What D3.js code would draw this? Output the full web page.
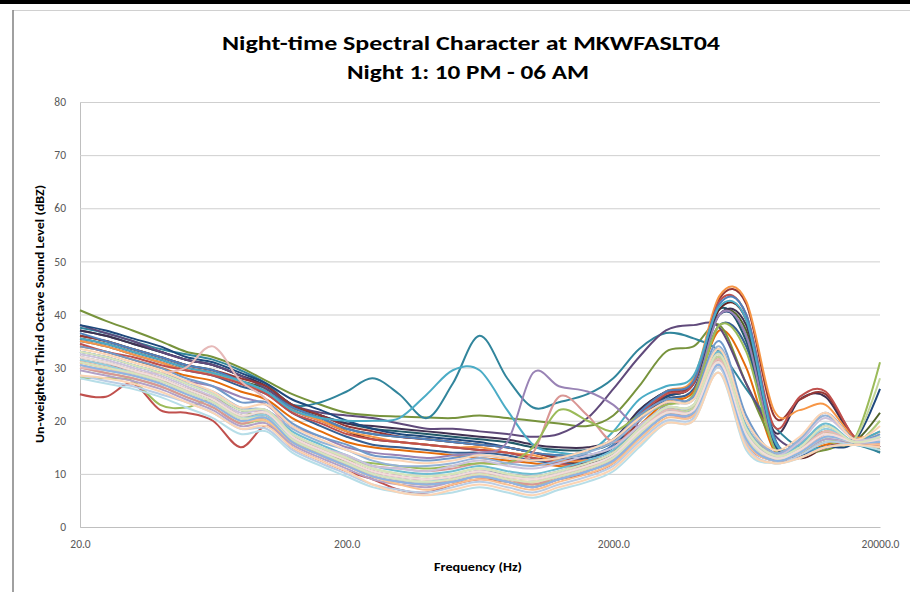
<!DOCTYPE html>
<html><head><meta charset="utf-8">
<script src="https://cdn.jsdelivr.net/npm/d3@7"></script>
<style>
html,body{margin:0;padding:0;background:#fff;}
svg{display:block;}
</style></head>
<body>
<svg id="c" width="910" height="592"></svg>
<script>
const titleLines = ["Night-time Spectral Character at MKWFASLT04", "Night 1: 10 PM - 06 AM"];
const xTitle = "Frequency (Hz)";
const yTitle = "Un-weighted Third Octave Sound Level (dBZ)";
const bands = [20,25,31.5,40,50,63,80,100,125,160,200,250,315,400,500,630,800,1000,1250,1600,2000,2500,3150,4000,5000,6300,8000,10000,12500,16000,20000];
const yTicks = [0,10,20,30,40,50,60,70,80];
const xTicks = [20,200,2000,20000];

// upper (dark) series
const s01 = [40.8,38.8,37,35,33,32,30,27.5,25,23,21.5,21,20.8,20.6,20.5,21,20.5,20,19.5,19,21,26.5,33,34,38,27,16,14,14.5,16,14.5];
const s02 = [37.5,36.5,35,33.5,32.5,31.5,29.5,27,23,23.5,25.5,28,25,20.5,27,36,28,22.5,23.5,25,28,33.5,36.5,35.5,33,26,19,15,15,15.5,14];
const s03 = [38,36.5,35,33,31.5,30.5,28.5,26,23,21.5,21,20.5,19.5,18.5,18.5,18,17.5,17,17.5,20.5,26,32,37,38,37.5,27,17.5,14.5,15,16,15];
const s04 = [38,37,35.5,34,32,31,29,27,24,22,20,18.5,17.5,17,16.5,16,15,14,13,13,15,21,24.5,27,40,36,16,13.5,15,16,26];
const s05 = [36,35,33.5,32,30.5,29.5,28,26.5,23,21,19,18,17,16.5,16,15.5,15,14,13,12.5,14,20,25,27.5,43,42,21,24,25,17,15];
const s06 = [35,34,32.5,31,29.5,29,27,25.5,22,20,18,17,16,15.5,15,15,14,13.5,12.5,12.5,14,21,25.5,28,43.5,42.5,22,22,23,17,18];
const s07 = [34.5,33,32,30.5,29.5,28.5,27,25,21.5,19.5,17.5,16.5,16,15.5,15,14.5,14,13,12,11.5,14,21,25,27,42.5,40,19,24.5,25.5,17,15.5];
const s08 = [36.5,35,33.5,32,30.5,29.5,27.5,25.5,22.5,20.5,18.5,17.5,17,16.5,16,15.5,15,14,13.5,13.5,15.5,21.5,25.5,27.5,42,40,17,14,15,16.5,16];
const s09 = [35.5,34.5,33,31.5,30,29,27.5,25.5,22,20.5,20,20,20.5,25,29.5,29.5,22,15.5,14,14,18,24,26.5,28.5,41.5,39,16.5,14.5,15,16,18];
const s10 = [33,32,30.5,29,27.5,26.5,24.5,23,19,17,15,14,13.5,13,13.5,14,16,29,26.5,25.5,23,19,23,25,40,36,15,14,16,16,17];
const s11 = [31,30,29,27.5,26,24.5,22,21.5,17,15,13,11.5,11,10.5,11,12,12,14,24.5,21,16,19,22,22.5,33,19,14,16,18,16,17];
const s12 = [28,28,27.5,23,22.5,24,22,20,16,14,12.5,12,11.5,11,11.5,12,12,15,22,20,18,21,23,25,38,33,15,14,16,16.5,31];
const s13 = [25,24.5,27,22,21.5,20,15,19,15,12.5,10.5,9,7,6.5,8,9,8.5,7.5,9,10,12,17,21,21.5,31,16,12.5,13,15,16,15];
// between-group series
const s14 = [35,34,32.5,31,29.5,28.5,26.5,25,21.5,19,17,15.5,15,14.5,14,14,13.5,12.5,12,12,14,20,24,26,38,34,15.5,13.5,15,16,15];
const s15 = [34,33,31.5,30,28.5,27.5,25.5,24,20.5,18,16,15,14.5,14,13.5,13,12.5,12,11.5,11.5,13.5,19,23.5,25.5,37,30,14.5,13.5,15.5,16,15.5];
const s16 = [37,36,34.5,33,31.5,30.5,28.5,26.5,23,21,19.5,18.5,18,17.5,17,16.5,16,15,14.5,14.5,16,22,25.5,27.5,41,35,16,13.5,15,16,14];
const s17 = [35.5,34.5,33,31.5,30,29,27,25.5,22,20,18,16.5,16,15.5,15,14.5,14,13,12.5,12,13.5,20,24.5,27,41,39,17,13,15,16,15];
const s18 = [36,35,33.5,32,30.5,29.5,27.5,26,22.5,20.5,18.5,17.5,17,16.5,16,15.5,15,14,13.5,13.5,15,21,24.5,27,40,37,16.5,13.5,15,16,21.5];
const s19 = [37,36,34.5,33,31.5,30.5,28.5,26.5,23,21,19.5,19,18.5,18,17.5,17,16.5,15.5,15,15,16.5,22,25.5,27.5,40,38,18,24,24.5,16.5,15];
// medium series
const s20 = [34,33,31.5,30,28,26.5,23.5,23.5,19.5,17,15.5,13.5,13,12.5,13,13.5,13,12.5,13,14.5,16.5,21,24,24.5,35,21,14,16.5,21.5,16.5,17.5];
const s21 = [31.5,30.5,29.5,28,26,24,21,21,17,14.5,12.5,10.5,9.5,9,9.5,10.5,9.5,9,10,11.5,13.5,18,22,22.5,32,18,13,15,18,16,16];
const s22 = [30,29,28,26.5,24.5,22.5,19.5,20,16,13.5,11.5,9.5,8.5,8,8.5,9.5,8.5,8,9,10.5,12.5,17,21,21.5,30.5,16.5,12.5,14,16.5,15.5,20];
const s23 = [32,31,29.5,28,26,24,21,21,17,14.5,12.5,10.5,9.5,9,9.5,10.5,10,9.5,10.5,12,14,18.5,22,22.5,32,18,13.5,15.5,19,16,16.5];
const s24 = [33,32,30.5,29,27,25,22,22,18,15.5,13.5,11.5,10.5,10,10.5,11.5,10.5,10,11,12.5,14.5,19,22.5,23,33,19,13.5,15.5,19.5,16,17];
const s25 = [31,30,29,27.5,25.5,23.5,20.5,20.5,16.5,14,12,10,9,8.5,9,10,9,8.5,9.5,11,13,17.5,21.5,22,31.5,17.5,13,14.5,18,16,16];
// light series
const s26 = [33,32,30.5,29,27,25.5,22.5,22,18.5,16,14.5,12.5,11.5,11.5,12,13,12,11.5,12.5,14,16,20,23.5,24,34,20,14,16.5,21,16.5,17];
const s27 = [30,29,28,26.5,24.5,22.5,19.5,20.5,16,13.5,11.5,9.5,8.5,8,9,10,9,8,9.5,11,13,17.5,21.5,21.5,31.5,17,13,14,17.5,16,15.5];
const s28 = [32,31,29.5,28,26,24,21,21.5,17.5,15,13,11,10,9.5,10,11,10,9,10,11.5,13.5,18,22,22.5,32,18,13,14.5,18,16.5,28];
const s29 = [29.5,28.5,27.5,26,24,22,19,19.5,15.5,13,11,9,8,7.5,8.5,9.5,8.5,7.5,9,10.5,12.5,17,21,21,30.5,16.5,12.5,14,16.5,16,16];
const s30 = [31.5,30.5,29,27.5,25.5,23.5,20.5,21,16.5,14,12,10,9,8.5,9.5,10.5,9.5,9,10,11.5,13.5,18,22,22,31,17.5,13,15,18.5,16,17];
const s31 = [30.5,29.5,28.5,27,25,23,20,20,16,13.5,11.5,9.5,8,7,8,9,8,7,8.5,10,12,16.5,20.5,21,30,16,12.5,14,17,16,15.5];
const s32 = [28.5,27.5,26.5,25,23.5,21.5,18.5,18.5,14.5,12,10,8,7,6.5,7.5,8.5,7.5,6.5,8,9.5,11.5,16,20,20.5,30,15.5,12,13.5,16,15.5,15];
const s33 = [30,29.5,29,29,30,34,27.5,24,17,14.5,12.5,10.5,9.5,9,9.5,10.5,9.5,9,10,11.5,13,18,22,22,31.5,17,13,14.5,18,16,16];
const s34 = [31,30,29,27.5,25.5,23.5,20.5,20.5,16.5,14,12,10,9,8.5,9,10,9,8.5,9.5,11,13,17.5,21.5,22,31,17,13,14,17,16,16.5];
const s35 = [32.5,31.5,30,28.5,26.5,24.5,21.5,22,17.5,15,13.5,11.5,11,10.5,11.5,12.5,11.5,11,12,13.5,15,19,22.5,23,32.5,18.5,13.5,16,20.5,16.5,17];
const s36 = [28,27,26,24.5,22.5,20.5,17.5,18,14,11.5,9.5,7.5,6.5,6,6.5,7.5,6.5,5.5,7,8.5,10.5,15,19.5,20,29,14.5,12,13,15,15.5,14.5];
const s37 = [33.5,32.5,31,29.5,27.5,25.5,22.5,23,19,16.5,14.5,13,12.5,12,12.5,13.5,13,12.5,13,14.5,16.5,20.5,23.5,24,33.5,20,14.5,17,21.5,16.5,19];
const s38 = [30.5,29.5,28.5,27,25,23,20,20.5,16,13.5,11.5,9.5,8.5,8,8.5,9.5,8.5,7.5,9,10.5,12.5,17,21,21.5,30.5,16.5,12.5,14,17,16,16];
const s39 = [32,31,29.5,28,26,24,21,21.5,17,14.5,12.5,10.5,9.5,9,9.5,10.5,9.5,9,10,11.5,13.5,18,21.5,22,31,17.5,13,14.5,17.5,16,16.5];
const s40 = [28.5,28,27,25.5,23.5,21.5,18.5,19,15,12.5,10.5,8,6.5,6,7,8,7,6,7.5,9,11,15.5,19.5,20,29,15,12,13,15,15.5,15];
const s41 = [33,32,30.5,29,27,25,22,22,17.5,15,13,11,10,9.5,10,11,10,9.5,10.5,12,14,18.5,22.5,23,32.5,18.5,13.5,15,19,16,17];

const seriesList = [s14,s15,s16,s17,s18,s19,s01,s02,s03,s04,s05,s06,s07,s08,s09,s10,s11,s12,s13,
  s20,s21,s22,s23,s24,s25,s26,s27,s28,s29,s30,s31,s32,s33,s34,s35,s36,s37,s38,s39,s40,s41];
const seriesColors = ["#376092","#E46C0A","#215968","#632523","#4F6228","#403152",
  "#77933C","#31859C","#604A7B","#1F497D","#953735","#F79646","#C0504D","#4F81BD","#4BACC6","#9983B5","#D99694","#9BBB59","#C0504D",
  "#729ACA","#CD7371","#AFC97A","#9983B5","#6FBDD1","#F9AB6B",
  "#95B3D7","#D99694","#C3D69B","#B3A2C7","#93CDDD","#FAC090","#B9CDE5","#E6B9B8","#D7E4BD","#CCC1DA","#B7DEE8","#FCD5B5","#8EB4E3","#F2DCDB","#FBD4B4","#D8E4BC"];

const svg = d3.select("#c");
const font = "Carlito, Calibri, Lato, 'Open Sans', sans-serif";

// frame
svg.append("rect").attr("x",0).attr("y",0).attr("width",910).attr("height",592).attr("fill","#fff");
svg.append("rect").attr("x",0).attr("y",0).attr("width",910).attr("height",4).attr("fill","#000");
svg.append("line").attr("x1",13).attr("x2",910).attr("y1",10.5).attr("y2",10.5).attr("stroke","#d0d0d0").attr("stroke-width",1);
svg.append("line").attr("x1",13).attr("x2",13).attr("y1",10).attr("y2",592).attr("stroke","#808080").attr("stroke-width",1.5);

const x = d3.scaleLog().domain([20,20000]).range([80,880]);
const y = d3.scaleLinear().domain([0,80]).range([527,102]);

// gridlines + y axis
const gy = svg.append("g").attr("transform","translate(80,0)")
  .call(d3.axisLeft(y).tickValues(yTicks).tickSize(-800).tickPadding(14).tickFormat(d3.format("d")));
gy.select(".domain").attr("stroke","#bfbfbf");
gy.selectAll(".tick line").attr("stroke","#cfcfcf").attr("stroke-width",1);
gy.selectAll(".tick text").attr("fill","#595959").style("font-family",font).style("font-size","11.5px");

const gx = svg.append("g").attr("transform","translate(0,527)")
  .call(d3.axisBottom(x).tickValues(xTicks).tickSize(0).tickPadding(13).tickFormat(d3.format(".1f")));
gx.select(".domain").attr("stroke","#bfbfbf");
gx.selectAll(".tick text").attr("fill","#595959").style("font-family",font).style("font-size","11.5px");

// lines
const line = d3.line().x((d,i)=>x(bands[i])).y(d=>y(d)).curve(d3.curveCardinal.tension(0));
const gl = svg.append("g");
seriesList.forEach((s,i)=>{
  gl.append("path").attr("d",line(s)).attr("fill","none")
    .attr("stroke",seriesColors[i]).attr("stroke-width",2).attr("stroke-linejoin","round");
});

// titles
svg.append("text").attr("x",471).attr("y",50).attr("text-anchor","middle")
  .style("font-family",font).style("font-size","21px").style("font-weight","bold").attr("fill","#000")
  .attr("textLength",498).attr("lengthAdjust","spacingAndGlyphs").text(titleLines[0]);
svg.append("text").attr("x",468).attr("y",79).attr("text-anchor","middle")
  .style("font-family",font).style("font-size","21px").style("font-weight","bold").attr("fill","#000")
  .attr("textLength",242).attr("lengthAdjust","spacingAndGlyphs").text(titleLines[1]);
svg.append("text").attr("x",478).attr("y",571).attr("text-anchor","middle")
  .style("font-family",font).style("font-size","11px").style("font-weight","bold").attr("fill","#000")
  .attr("textLength",88).attr("lengthAdjust","spacingAndGlyphs").text(xTitle);
svg.append("text").attr("transform","translate(44,314) rotate(-90)").attr("text-anchor","middle")
  .style("font-family",font).style("font-size","11px").style("font-weight","bold").attr("fill","#000")
  .attr("textLength",258).attr("lengthAdjust","spacingAndGlyphs").text(yTitle);
</script>
</body></html>
